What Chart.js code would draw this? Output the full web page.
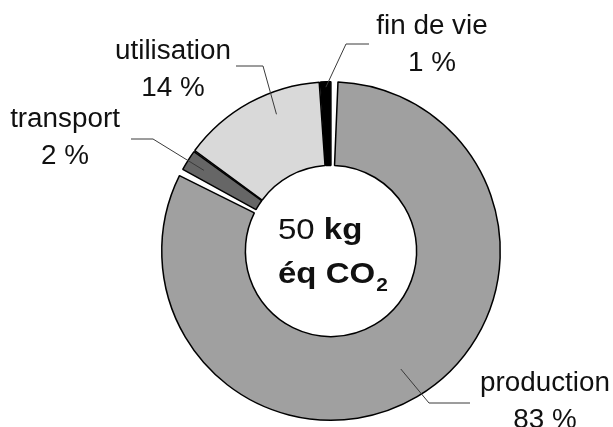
<!DOCTYPE html>
<html>
<head>
<meta charset="utf-8">
<script src="https://cdn.jsdelivr.net/npm/chart.js@4"></script>
<style>
  html, body { margin: 0; padding: 0; background: #fff; }
  #wrap { width: 613px; height: 427px; }
</style>
</head>
<body>
<div id="wrap"><canvas id="chart" width="613" height="427"></canvas></div>
<script>
const categories = ["production", "transport", "utilisation", "fin de vie"];
const shares = [83, 2, 14, 1];
const shareLabels = ["83 %", "2 %", "14 %", "1 %"];
const totalAmount = "50";
const totalUnit = "kg";
const totalBasis = "éq CO";
const totalSub = "2";

const sliceColours = ["#a0a0a0", "#666666", "#d9d9d9", "#000000"];

// label placement + leader line route (canvas px), anchor is taken from the arc
const labelSpots = [
  { x: 545, y: 391, along: 0.5, depth: 0.82, elbow: [429, 403], end: [470, 403] },
  { x: 65, y: 127, along: 0.5, depth: 0.9, elbow: [153, 139], end: [131, 139] },
  { x: 173, y: 59, along: 0.64, depth: 0.88, elbow: [263, 66], end: [236, 66] },
  { x: 432, y: 34, along: 0.5, depth: 0.98, elbow: [346, 44], end: [369, 44] },
];

const FONT = '"Liberation Sans", Arial, sans-serif';

// text in the original is drawn a little wide
function wideText(ctx, txt, x, y, align, k) {
  const w = ctx.measureText(txt).width * k;
  let left = x;
  if (align === "center") left = x - w / 2;
  ctx.save();
  ctx.translate(left, y);
  ctx.scale(k, 1);
  ctx.textAlign = "left";
  ctx.fillText(txt, 0, 0);
  ctx.restore();
  return w;
}

const labelsPlugin = {
  id: "sliceLabels",
  afterDraw(chart) {
    const ctx = chart.ctx;
    const meta = chart.getDatasetMeta(0);

    // leader lines
    ctx.save();
    ctx.strokeStyle = "#3a3a3a";
    ctx.lineWidth = 1;
    meta.data.forEach((arc, i) => {
      const s = labelSpots[i];
      const p = arc.getProps(["x", "y", "startAngle", "endAngle", "outerRadius"], true);
      const a = p.startAngle + (p.endAngle - p.startAngle) * s.along;
      const r = p.outerRadius * s.depth;
      ctx.beginPath();
      ctx.moveTo(p.x + Math.cos(a) * r, p.y + Math.sin(a) * r);
      ctx.lineTo(s.elbow[0], s.elbow[1]);
      ctx.lineTo(s.end[0], s.end[1]);
      ctx.stroke();
    });
    ctx.restore();

    // slice labels
    ctx.save();
    ctx.fillStyle = "#111";
    ctx.font = "27px " + FONT;
    ctx.textBaseline = "alphabetic";
    categories.forEach((name, i) => {
      const s = labelSpots[i];
      wideText(ctx, name, s.x, s.y, "center", 1.03);
      wideText(ctx, shareLabels[i], s.x, s.y + 37, "center", 1.03);
    });
    ctx.restore();

    // centre text
    const c = meta.data[0];
    const cx = c.x, cy = c.y;
    const k = 1.1;
    ctx.save();
    ctx.fillStyle = "#111";
    let x = cx - 53;
    ctx.font = "30px " + FONT;
    x += wideText(ctx, totalAmount + " ", x, cy - 12, "left", k);
    ctx.font = "bold 30px " + FONT;
    wideText(ctx, totalUnit, x, cy - 12, "left", k);
    x = cx - 53;
    x += wideText(ctx, totalBasis, x, cy + 32, "left", k);
    ctx.font = "bold 19px " + FONT;
    wideText(ctx, totalSub, x + 1, cy + 40, "left", k);
    ctx.restore();
  },
};

new Chart(document.getElementById("chart"), {
  type: "doughnut",
  data: {
    labels: categories,
    datasets: [
      {
        data: shares,
        backgroundColor: sliceColours,
        borderColor: "#000",
        borderWidth: 1.5,
        spacing: 4,
      },
    ],
  },
  options: {
    responsive: false,
    animation: false,
    cutout: "50%",
    rotation: 0,
    layout: { padding: { left: 161, right: 112, top: 81, bottom: 6 } },
    plugins: {
      legend: { display: false },
      tooltip: { enabled: false },
    },
  },
  plugins: [labelsPlugin],
});
</script>
</body>
</html>
